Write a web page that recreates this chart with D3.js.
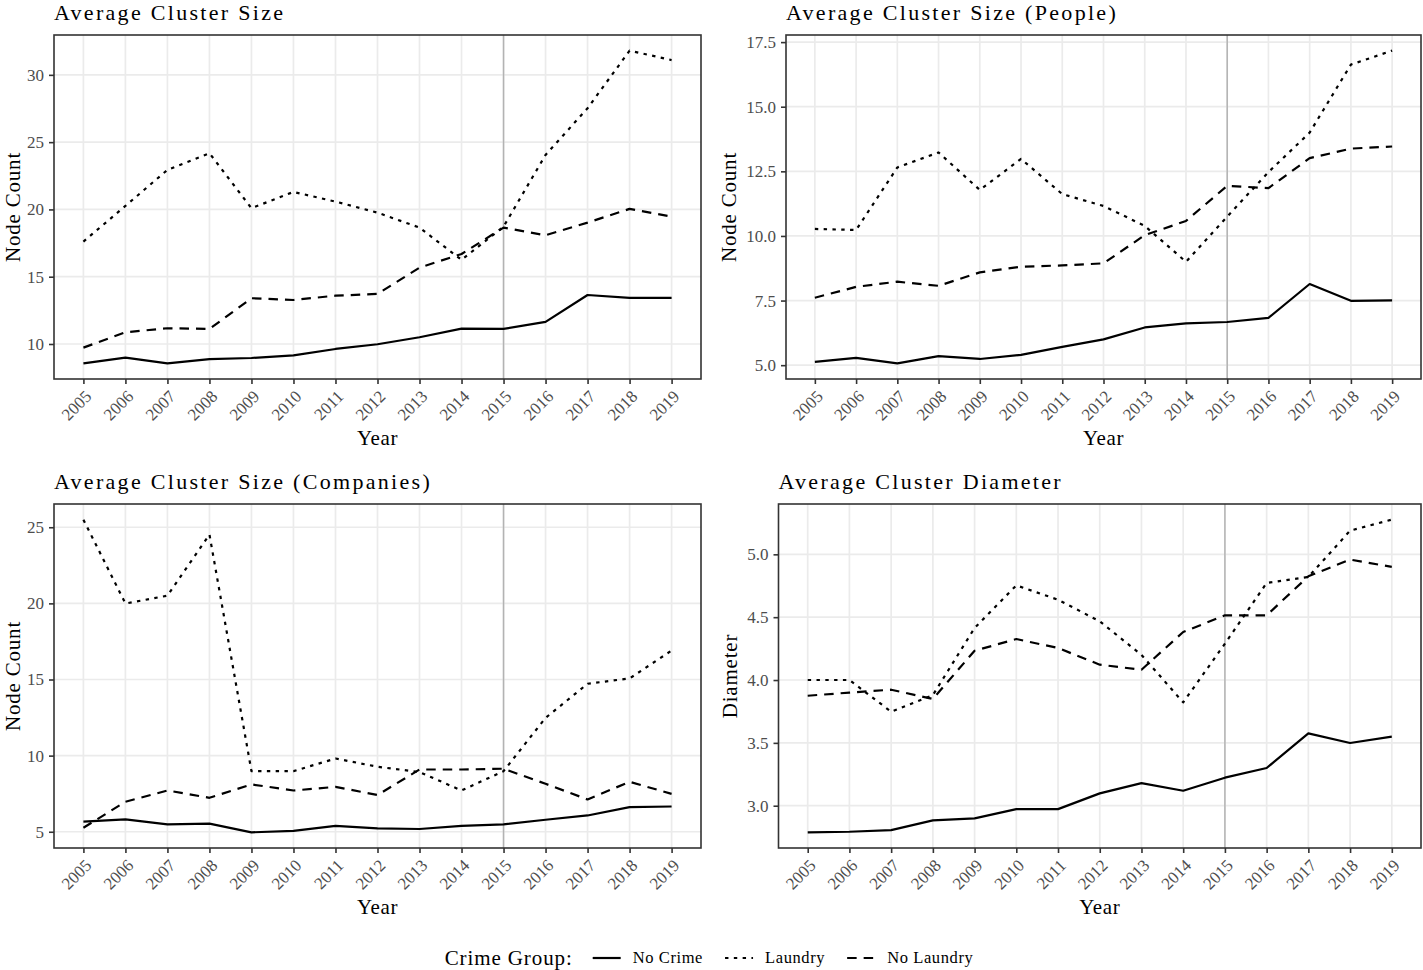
<!DOCTYPE html>
<html>
<head>
<meta charset="utf-8">
<script src="https://cdn.jsdelivr.net/npm/d3@7"></script>
<style>
  body { margin: 0; background: #fff; }
  svg { display: block; }
</style>
</head>
<body>
<script>
// data
const years = [2005, 2006, 2007, 2008, 2009, 2010, 2011, 2012, 2013, 2014, 2015, 2016, 2017, 2018, 2019];
const groups = ["No Crime", "Laundry", "No Laundry"];
const cutYear = 2015;

// Average Cluster Size
const sizeNoCrime = [8.56, 8.98, 8.56, 8.88, 8.96, 9.16, 9.63, 9.98, 10.5, 11.14, 11.12, 11.64, 13.64, 13.42, 13.42];
const sizeLaundry = [17.61, 20.26, 22.94, 24.18, 20.09, 21.3, 20.58, 19.76, 18.65, 16.25, 18.72, 24.05, 27.52, 31.8, 31.1];
const sizeNoLaundry = [9.73, 10.87, 11.17, 11.12, 13.4, 13.27, 13.59, 13.72, 15.67, 16.69, 18.65, 18.08, 19.02, 20.04, 19.47];

// Average Cluster Size (People)
const peopleNoCrime = [5.13, 5.28, 5.07, 5.35, 5.24, 5.4, 5.71, 6.0, 6.46, 6.62, 6.67, 6.83, 8.14, 7.49, 7.51];
const peopleLaundry = [10.27, 10.23, 12.65, 13.23, 11.78, 12.98, 11.62, 11.16, 10.39, 9.0, 10.75, 12.47, 14.0, 16.63, 17.17];
const peopleNoLaundry = [7.61, 8.03, 8.23, 8.07, 8.59, 8.81, 8.86, 8.94, 10.03, 10.58, 11.94, 11.85, 13.01, 13.38, 13.46];

// Average Cluster Size (Companies)
const companyNoCrime = [5.66, 5.81, 5.48, 5.53, 4.96, 5.06, 5.39, 5.22, 5.18, 5.39, 5.48, 5.79, 6.07, 6.62, 6.66];
const companyLaundry = [25.5, 19.99, 20.51, 24.52, 8.98, 8.98, 9.81, 9.27, 8.92, 7.71, 8.98, 12.48, 14.72, 15.07, 16.9];
const companyNoLaundry = [5.26, 6.97, 7.71, 7.23, 8.11, 7.71, 7.95, 7.41, 9.09, 9.09, 9.14, 8.15, 7.12, 8.28, 7.49];

// Average Cluster Diameter
const diameterNoCrime = [2.788, 2.793, 2.806, 2.883, 2.899, 2.973, 2.973, 3.098, 3.18, 3.119, 3.223, 3.3, 3.576, 3.499, 3.549];
const diameterLaundry = [4.0, 4.0, 3.748, 3.88, 4.414, 4.753, 4.639, 4.467, 4.2, 3.822, 4.289, 4.772, 4.82, 5.188, 5.276];
const diameterNoLaundry = [3.875, 3.9, 3.923, 3.849, 4.233, 4.326, 4.255, 4.122, 4.082, 4.382, 4.515, 4.515, 4.825, 4.958, 4.9];

// y tick labels
const sizeTicks = [10, 15, 20, 25, 30];
const peopleTicks = [5, 7.5, 10, 12.5, 15, 17.5];
const companyTicks = [5, 10, 15, 20, 25];
const diameterTicks = [3, 3.5, 4, 4.5, 5];

const width = 1423;
const height = 970;
const font = "'Liberation Serif', 'Times New Roman', serif";
const dashes = ["none", "3.4,5.4", "9.5,7"];

const svg = d3.select("body")
    .append("svg")
    .attr("width", width)
    .attr("height", height);

svg.append("rect")
    .attr("width", width)
    .attr("height", height)
    .attr("fill", "#fff");

const panels = [
    { title: "Average Cluster Size", yTitle: "Node Count", series: [sizeNoCrime, sizeLaundry, sizeNoLaundry],
      ticks: sizeTicks, format: d3.format("d"), left: 54, right: 701, top: 35, bottom: 379 },
    { title: "Average Cluster Size (People)", yTitle: "Node Count", series: [peopleNoCrime, peopleLaundry, peopleNoLaundry],
      ticks: peopleTicks, format: d3.format(".1f"), left: 786, right: 1421, top: 35, bottom: 379 },
    { title: "Average Cluster Size (Companies)", yTitle: "Node Count", series: [companyNoCrime, companyLaundry, companyNoLaundry],
      ticks: companyTicks, format: d3.format("d"), left: 54, right: 701, top: 504, bottom: 848 },
    { title: "Average Cluster Diameter", yTitle: "Diameter", series: [diameterNoCrime, diameterLaundry, diameterNoLaundry],
      ticks: diameterTicks, format: d3.format(".1f"), left: 778.5, right: 1421, top: 504, bottom: 848 }
];

panels.forEach(p => drawPanel(p));
drawLegend();

function drawPanel(p) {
    const g = svg.append("g");

    // scales (ggplot style 5% expansion)
    const xScale = d3.scaleLinear()
        .domain([years[0] - 0.7, years[years.length - 1] + 0.7])
        .range([p.left, p.right]);
    const ext = d3.extent(p.series.flat());
    const pad = (ext[1] - ext[0]) * 0.05;
    const yScale = d3.scaleLinear()
        .domain([ext[0] - pad, ext[1] + pad])
        .range([p.bottom, p.top]);

    // grid
    g.selectAll(".gy").data(p.ticks).enter().append("line")
        .attr("x1", p.left).attr("x2", p.right)
        .attr("y1", d => yScale(d)).attr("y2", d => yScale(d))
        .attr("stroke", "#ebebeb").attr("stroke-width", 1.7);
    g.selectAll(".gx").data(years).enter().append("line")
        .attr("x1", d => xScale(d)).attr("x2", d => xScale(d))
        .attr("y1", p.top).attr("y2", p.bottom)
        .attr("stroke", "#ebebeb").attr("stroke-width", 1.7);

    // 2015 marker
    g.append("line")
        .attr("x1", xScale(cutYear)).attr("x2", xScale(cutYear))
        .attr("y1", p.top).attr("y2", p.bottom)
        .attr("stroke", "#b3b3b3").attr("stroke-width", 1.5);

    const line = d3.line()
        .x((d, i) => xScale(years[i]))
        .y(d => yScale(d));

    p.series.forEach((s, k) => {
        g.append("path")
            .datum(s)
            .attr("fill", "none")
            .attr("stroke", "#000")
            .attr("stroke-width", 2.2)
            .attr("stroke-linejoin", "round")
            .attr("stroke-dasharray", dashes[k])
            .attr("d", line);
    });

    // border
    g.append("rect")
        .attr("x", p.left).attr("y", p.top)
        .attr("width", p.right - p.left).attr("height", p.bottom - p.top)
        .attr("fill", "none").attr("stroke", "#333").attr("stroke-width", 1.6);

    // x axis
    const xAxis = g.append("g")
        .attr("transform", "translate(0," + p.bottom + ")")
        .call(d3.axisBottom(xScale).tickValues(years).tickFormat(d3.format("d")).tickSize(5).tickSizeOuter(0));
    xAxis.select(".domain").remove();
    xAxis.selectAll("line").attr("stroke", "#333").attr("stroke-width", 1.6);
    xAxis.selectAll("text")
        .attr("x", 0).attr("y", 0).attr("dy", "0.71em")
        .attr("transform", "translate(0,10) rotate(-45)")
        .attr("text-anchor", "end")
        .attr("fill", "#4d4d4d")
        .attr("font-size", "17px")
        .attr("font-family", font);

    // y axis
    const yAxis = g.append("g")
        .attr("transform", "translate(" + p.left + ",0)")
        .call(d3.axisLeft(yScale).tickValues(p.ticks).tickFormat(p.format).tickSize(5).tickPadding(5).tickSizeOuter(0));
    yAxis.select(".domain").remove();
    yAxis.selectAll("line").attr("stroke", "#333").attr("stroke-width", 1.6);
    yAxis.selectAll("text")
        .attr("fill", "#4d4d4d")
        .attr("font-size", "17px")
        .attr("font-family", font);

    const labelLeft = p.left + yAxis.node().getBBox().x;

    // titles
    g.append("text")
        .attr("x", p.left)
        .attr("y", p.top - 15)
        .attr("font-size", "22px")
        .attr("letter-spacing", "2.3px")
        .attr("font-family", font)
        .text(p.title);

    // keep the rotated title inside the page
    const yTitleX = Math.max(labelLeft - 10, 20);
    g.append("text")
        .attr("transform", "translate(" + yTitleX + "," + ((p.top + p.bottom) / 2) + ") rotate(-90)")
        .attr("text-anchor", "middle")
        .attr("font-size", "21px")
        .attr("letter-spacing", "0.8px")
        .attr("font-family", font)
        .text(p.yTitle);

    g.append("text")
        .attr("x", (p.left + p.right) / 2)
        .attr("y", p.bottom + 66)
        .attr("text-anchor", "middle")
        .attr("font-size", "21px")
        .attr("letter-spacing", "0.6px")
        .attr("font-family", font)
        .text("Year");
}

function drawLegend() {
    const lg = svg.append("g");
    const cy = 958;
    let cx = 0;

    const head = lg.append("text")
        .attr("x", cx).attr("y", cy).attr("dy", "0.32em")
        .attr("font-size", "21px")
        .attr("letter-spacing", "0.9px")
        .attr("font-family", font)
        .text("Crime Group:");
    cx += head.node().getComputedTextLength() + 20;

    groups.forEach((name, k) => {
        lg.append("line")
            .attr("x1", cx).attr("x2", cx + 28)
            .attr("y1", cy).attr("y2", cy)
            .attr("stroke", "#000").attr("stroke-width", 2.2)
            .attr("stroke-dasharray", dashes[k]);
        cx += 28 + 12;
        const t = lg.append("text")
            .attr("x", cx).attr("y", cy).attr("dy", "0.32em")
            .attr("font-size", "16.5px")
            .attr("letter-spacing", "0.6px")
            .attr("font-family", font)
            .text(name);
        cx += t.node().getComputedTextLength() + (k < groups.length - 1 ? 22 : 0);
    });

    // center under the panels
    lg.attr("transform", "translate(" + (709 - cx / 2) + ",0)");
}
</script>
</body>
</html>
